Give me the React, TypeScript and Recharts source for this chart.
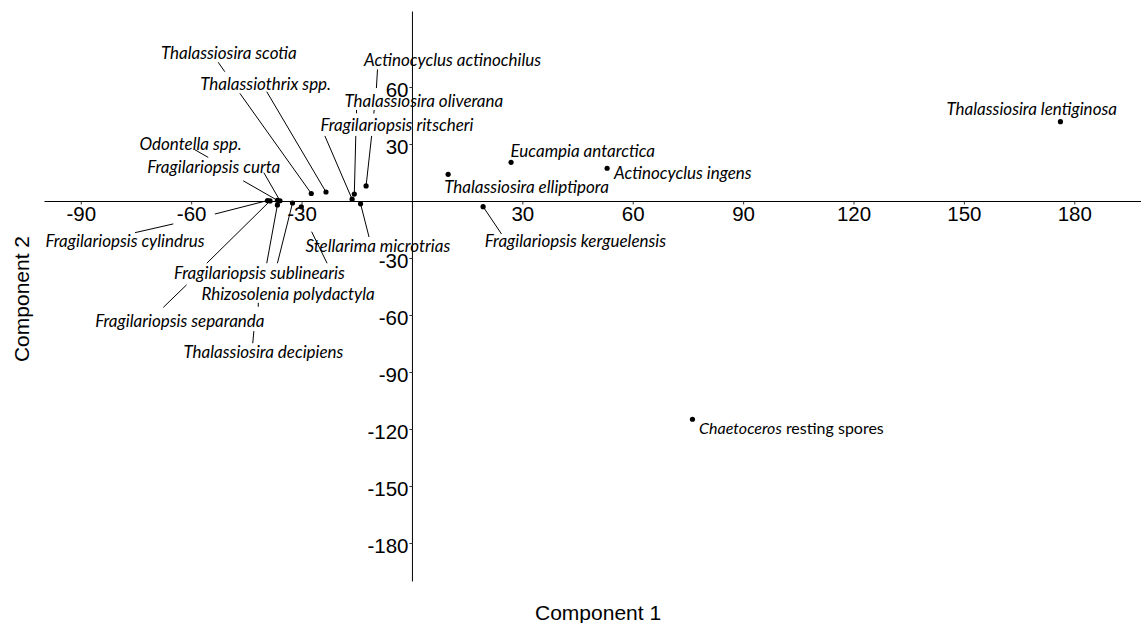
import React from 'react';
import { ScatterChart, Scatter, XAxis, YAxis, ReferenceLine } from 'recharts';

const species = [
  'Thalassiosira scotia',
  'Thalassiothrix spp.',
  'Actinocyclus actinochilus',
  'Thalassiosira oliverana',
  'Fragilariopsis ritscheri',
  'Odontella spp.',
  'Fragilariopsis curta',
  'Fragilariopsis cylindrus',
  'Fragilariopsis sublinearis',
  'Rhizosolenia polydactyla',
  'Fragilariopsis separanda',
  'Thalassiosira decipiens',
  'Stellarima microtrias',
  'Eucampia antarctica',
  'Actinocyclus ingens',
  'Thalassiosira elliptipora',
  'Fragilariopsis kerguelensis',
  'Thalassiosira lentiginosa',
  'Chaetoceros resting spores',
];

const component1 = [-27.5, -23.5, -12.6, -15.8, -16.4, -36.7, -36.0, -39.4, -32.6, -30.2, -38.7, -36.7, -14.1, 26.8, 52.9, 9.7, 19.2, 176.1, 76.1];
const component2 = [4.2, 5.0, 8.2, 3.9, 1.2, 0.6, 0.4, 0.5, -0.8, -2.8, 0.3, -1.8, -1.2, 20.6, 17.5, 14.3, -2.7, 42.0, -114.6];

// label anchor positions (data units)
const labelX = [-49.9, -39.9, 10.9, 3.1, -4.2, -60.3, -54.0, -78.1, -41.6, -33.8, -63.2, -40.5, -9.4, 46.3, 73.5, 31.0, 44.3, 168.3, 77.9];
const labelY = [78.2, 62.2, 74.5, 52.9, 40.3, 30.3, 18.3, -20.3, -37.5, -48.2, -62.4, -79.1, -23.4, 26.6, 15.5, 7.8, -20.3, 48.7, -118.8];

// leader line pieces: [species index, x1, y1, x2, y2]; null end = the species point
const leaders: [number, number, number, number | null, number | null][] = [
  [0, -52.8, 73.3, -51.0, 68.3],
  [0, -46.9, 56.9, null, null],
  [1, -39.6, 57.8, null, null],
  [2, -9.5, 69.5, -9.8, 59.7],
  [2, -10.4, 48.2, -10.5, 46.3],
  [2, -11.1, 34.5, null, null],
  [3, -15.2, 48.2, -15.2, 46.4],
  [3, -15.4, 34.5, null, null],
  [4, -23.8, 34.5, null, null],
  [5, -59.1, 27.2, -55.5, 23.2],
  [5, -46.0, 10.9, null, null],
  [6, -40.4, 15.2, null, null],
  [7, -75.4, -16.4, -65.0, -11.8],
  [7, -53.7, -6.6, null, null],
  [8, -36.7, -32.5, null, null],
  [9, -23.2, -32.5, -27.4, -15.9],
  [10, -67.7, -55.7, -61.4, -43.9],
  [10, -55.9, -32.5, null, null],
  [11, -43.4, -74.6, -43.1, -68.2],
  [11, -41.9, -53.3, -41.9, -55.4],
  [11, -39.6, -32.5, null, null],
  [12, -11.8, -18.7, null, null],
  [16, 24.2, -17.1, null, null],
];

const xTicks = [-90, -60, -30, 30, 60, 90, 120, 150, 180];
const yTicks = [60, 30, -30, -60, -90, -120, -150, -180];

const xDomain: [number, number] = [-100, 198];
const yDomain: [number, number] = [-200, 100];

const pointData = species.map((name, i) => ({ name, x: component1[i], y: component2[i] }));
const labelData = species.map((name, i) => ({ name, x: labelX[i], y: labelY[i] }));
const xTickData = xTicks.map((t) => ({ x: t, y: 0, t }));
const yTickData = yTicks.map((t) => ({ x: 0, y: t, t }));

const LABEL_FONT = 'Lato, "Open Sans", sans-serif';
const AXIS_FONT = '"Liberation Sans", Arial, sans-serif';

const PointShape = (props: any) => {
  const { cx, cy } = props;
  return <circle cx={cx} cy={cy} r={2.6} fill="#000" />;
};

const LabelShape = (props: any) => {
  const { cx, cy, payload } = props;
  const name: string = payload.name;
  if (name.endsWith('resting spores')) {
    const genus = name.split(' ')[0];
    const rest = name.slice(genus.length);
    return (
      <text x={cx} y={cy} textAnchor="start" dominantBaseline="central" fontFamily={LABEL_FONT} fontSize={16} fill="#000">
        <tspan fontStyle="italic">{genus}</tspan>
        <tspan>{rest}</tspan>
      </text>
    );
  }
  return (
    <text x={cx} y={cy} textAnchor="middle" dominantBaseline="central" fontFamily={LABEL_FONT} fontStyle="italic" fontSize={17} fill="#000">
      {name}
    </text>
  );
};

const XTickShape = (props: any) => {
  const { cx, cy, payload } = props;
  return (
    <g>
      <line x1={cx} y1={cy} x2={cx} y2={cy + 3} stroke="#333" strokeWidth={1} />
      <text x={cx} y={cy + 11.5} textAnchor="middle" dominantBaseline="central" fontFamily={AXIS_FONT} fontSize={20.5} fill="#000">
        {payload.t}
      </text>
    </g>
  );
};

const YTickShape = (props: any) => {
  const { cx, cy, payload } = props;
  return (
    <g>
      <line x1={cx - 3} y1={cy} x2={cx} y2={cy} stroke="#333" strokeWidth={1} />
      <text x={cx - 4} y={cy + 2} textAnchor="end" dominantBaseline="central" fontFamily={AXIS_FONT} fontSize={20.5} fill="#000">
        {payload.t}
      </text>
    </g>
  );
};

export default function App() {
  return (
    <div style={{ position: 'relative', width: 1141, height: 623, background: '#fff' }}>
      <style>{'body{margin:0;background:#fff;}'}</style>
      <ScatterChart width={1141} height={623} margin={{ top: 11.5, right: 0, bottom: 41.5, left: 44.5 }}>
        <XAxis type="number" dataKey="x" domain={xDomain} hide allowDataOverflow />
        <YAxis type="number" dataKey="y" domain={yDomain} hide allowDataOverflow />
        <ReferenceLine y={0} stroke="#000" strokeWidth={1} />
        <ReferenceLine x={0} stroke="#000" strokeWidth={1} />
        {leaders.map(([i, x1, y1, x2, y2], k) => (
          <ReferenceLine
            key={'seg' + k}
            segment={[
              { x: x1, y: y1 },
              { x: x2 === null ? component1[i] : x2, y: y2 === null ? component2[i] : y2 },
            ]}
            stroke="#000"
            strokeWidth={1}
            ifOverflow="visible"
          />
        ))}
        <Scatter data={xTickData} shape={XTickShape} isAnimationActive={false} />
        <Scatter data={yTickData} shape={YTickShape} isAnimationActive={false} />
        <Scatter data={labelData} shape={LabelShape} isAnimationActive={false} />
        <Scatter data={pointData} shape={PointShape} isAnimationActive={false} />
      </ScatterChart>
      <div
        style={{
          position: 'absolute',
          left: 535,
          top: 601,
          fontFamily: AXIS_FONT,
          fontSize: 21,
          lineHeight: '24px',
          color: '#000',
          whiteSpace: 'nowrap',
        }}
      >
        Component 1
      </div>
      <div
        style={{
          position: 'absolute',
          left: -78,
          top: 287,
          width: 200,
          height: 24,
          textAlign: 'center',
          fontFamily: AXIS_FONT,
          fontSize: 21,
          lineHeight: '24px',
          color: '#000',
          whiteSpace: 'nowrap',
          transform: 'rotate(-90deg)',
        }}
      >
        Component 2
      </div>
    </div>
  );
}
